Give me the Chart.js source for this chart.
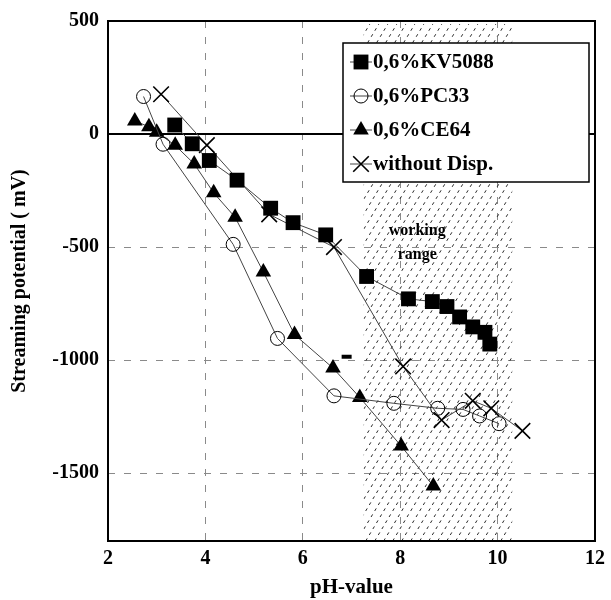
<!DOCTYPE html>
<html><head><meta charset="utf-8">
<script src="https://cdn.jsdelivr.net/npm/chart.js@4"></script>
<style>html,body{margin:0;padding:0;background:#fff}</style>
</head><body>
<canvas id="c" width="611" height="600" style="display:block;width:611px;height:600px"></canvas>
<script>
// ---- data ----
const seriesNames = ['0,6%KV5088', '0,6%PC33', '0,6%CE64', 'without Disp.'];

const kvPH = [3.37, 3.73, 4.08, 4.65, 5.34, 5.80, 6.47, 7.31, 8.17, 8.66, 8.96, 9.22, 9.49, 9.74, 9.84];
const kvMV = [40, -43, -117, -204, -328, -392, -446, -630, -729, -741, -763, -809, -853, -877, -929];

const pcPH = [2.73, 3.13, 4.57, 5.48, 6.64, 7.87, 8.77, 9.29, 9.63, 10.03];
const pcMV = [166, -45, -488, -904, -1158, -1191, -1213, -1218, -1247, -1281];

const cePH = [2.55, 2.84, 3.00, 3.38, 3.77, 4.17, 4.61, 5.19, 5.83, 6.62, 7.17, 8.02, 8.68];
const ceMV = [58, 32, 8, -50, -132, -260, -368, -610, -887, -1035, -1165, -1380, -1557];

const woPH = [3.09, 4.03, 5.31, 6.64, 8.06, 8.85, 9.49, 9.87, 10.51];
const woMV = [176, -49, -355, -500, -1028, -1265, -1180, -1213, -1313];

const strayPH = [6.90];
const strayMV = [-985];

const xTicks = [2, 4, 6, 8, 10, 12];
const yTicks = [500, 0, -500, -1000, -1500];
const xRange = [2, 12];
const yRange = [-1800, 500];
const workingRange = [7.25, 10.3];
const workingLabel = ['working', 'range'];
const xTitle = 'pH-value';
const yTitle = 'Streaming potential ( mV)';

const pts = (xs, ys) => xs.map((v, i) => ({x: v, y: ys[i]}));

const SERIF = '"Liberation Serif", "Times New Roman", serif';
const LINE = '#444';

const datasets = [
  {label: seriesNames[0], data: pts(kvPH, kvMV), pointStyle: 'rect', pointRadius: 10.5,
   backgroundColor: '#000', borderColor: LINE, pointBorderColor: '#000', pointBackgroundColor: '#000', borderWidth: 1, pointBorderWidth: 0},
  {label: seriesNames[1], data: pts(pcPH, pcMV), pointStyle: 'circle', pointRadius: 7,
   backgroundColor: 'rgba(0,0,0,0)', borderColor: LINE, pointBorderColor: '#000', pointBackgroundColor: 'rgba(0,0,0,0)', borderWidth: 1, pointBorderWidth: 1},
  {label: seriesNames[2], data: pts(cePH, ceMV), pointStyle: 'triangle', pointRadius: 9,
   backgroundColor: '#000', borderColor: LINE, pointBorderColor: '#000', pointBackgroundColor: '#000', borderWidth: 1, pointBorderWidth: 0},
  {label: seriesNames[3], data: pts(woPH, woMV), pointStyle: 'crossRot', pointRadius: 11,
   backgroundColor: '#000', borderColor: LINE, pointBorderColor: '#000', pointBackgroundColor: '#000', borderWidth: 1, pointBorderWidth: 1.6},
  {label: '', data: pts(strayPH, strayMV), pointStyle: 'line', pointRadius: 5, showLine: false,
   borderColor: '#000', pointBorderColor: '#000', pointBorderWidth: 4}
];

const overlay = {
  id: 'overlay',
  beforeDatasetsDraw(chart) {
    const {ctx, chartArea: a, scales: {x, y}} = chart;
    const x0 = x.getPixelForValue(workingRange[0]);
    const x1 = x.getPixelForValue(workingRange[1]);
    // hatched working range
    ctx.save();
    ctx.beginPath();
    ctx.rect(x0, a.top + 3, x1 - x0, a.bottom - a.top - 3);
    ctx.clip();
    ctx.strokeStyle = '#2a2a2a';
    ctx.lineWidth = 1;
    ctx.setLineDash([3, 4]);
    const H = a.bottom - a.top;
    const slant = 0.6;
    for (let sx = x0 - H * slant - 10; sx < x1 + 10; sx += 9) {
      ctx.beginPath();
      ctx.moveTo(sx, a.bottom);
      ctx.lineTo(sx + H * slant, a.top);
      ctx.stroke();
    }
    ctx.restore();
    // zero line
    const y0 = y.getPixelForValue(0);
    ctx.save();
    ctx.strokeStyle = '#000';
    ctx.lineWidth = 2;
    ctx.beginPath();
    ctx.moveTo(a.left, y0);
    ctx.lineTo(a.right, y0);
    ctx.stroke();
    // working range label
    ctx.fillStyle = '#000';
    ctx.font = 'bold 16px ' + SERIF;
    ctx.textAlign = 'center';
    ctx.textBaseline = 'middle';
    const tx = x.getPixelForValue(8.35);
    ctx.fillText(workingLabel[0], tx, y.getPixelForValue(-430));
    ctx.fillText(workingLabel[1], tx, y.getPixelForValue(-535));
    ctx.restore();
  },
  afterDraw(chart) {
    const {ctx, chartArea: a} = chart;
    ctx.save();
    // plot frame
    ctx.strokeStyle = '#000';
    ctx.lineWidth = 2;
    ctx.strokeRect(a.left, a.top, a.right - a.left, a.bottom - a.top);
    // legend box
    const bx = a.left + 235, by = a.top + 22, bw = 246, bh = 139;
    ctx.fillStyle = '#fff';
    ctx.fillRect(bx, by, bw, bh);
    ctx.strokeStyle = '#000';
    ctx.lineWidth = 1.5;
    ctx.strokeRect(bx, by, bw, bh);
    for (let i = 0; i < seriesNames.length; i++) {
      const ds = chart.data.datasets[i];
      const cy = by + 19 + i * 34;
      const mx = bx + 18;
      ctx.strokeStyle = LINE;
      ctx.lineWidth = 1;
      ctx.beginPath();
      ctx.moveTo(mx - 11, cy);
      ctx.lineTo(mx + 11, cy);
      ctx.stroke();
      ctx.fillStyle = ds.pointBackgroundColor;
      ctx.strokeStyle = ds.pointBorderColor;
      ctx.lineWidth = ds.pointBorderWidth;
      Chart.helpers.drawPoint(ctx, {pointStyle: ds.pointStyle, radius: ds.pointRadius, rotation: 0, borderWidth: ds.pointBorderWidth}, mx, cy);
      ctx.fillStyle = '#000';
      ctx.font = 'bold 21px ' + SERIF;
      ctx.textBaseline = 'middle';
      ctx.textAlign = 'left';
      ctx.fillText(ds.label, mx + 12, cy + 1);
    }
    ctx.restore();
  }
};

new Chart(document.getElementById('c'), {
  type: 'scatter',
  data: {datasets},
  plugins: [overlay],
  options: {
    responsive: false,
    animation: false,
    devicePixelRatio: 1,
    showLine: true,
    layout: {padding: {top: 21, right: 11, left: 0, bottom: 0}},
    plugins: {legend: {display: false}, tooltip: {enabled: false}},
    elements: {line: {tension: 0}},
    scales: {
      x: {
        type: 'linear', min: xRange[0], max: xRange[1],
        afterBuildTicks: s => { s.ticks = xTicks.map(v => ({value: v})); },
        afterFit: s => { s.height = 59; },
        ticks: {color: '#000', font: {family: SERIF, size: 20, weight: 'bold'}, padding: 6, maxRotation: 0,
                callback: v => String(v)},
        grid: {color: '#8a8a8a', lineWidth: 1, drawTicks: false},
        border: {display: false, dash: [7, 9]},
        title: {display: true, text: xTitle, color: '#000', font: {family: SERIF, size: 21, weight: 'bold'}, padding: {top: 0, bottom: 0}}
      },
      y: {
        type: 'linear', min: yRange[0], max: yRange[1],
        afterBuildTicks: s => { s.ticks = yTicks.map(v => ({value: v})); },
        afterFit: s => { s.width = 108; },
        ticks: {color: '#000', font: {family: SERIF, size: 20, weight: 'bold'}, padding: 9,
                callback: v => String(v)},
        grid: {color: '#8a8a8a', lineWidth: 1, drawTicks: false},
        border: {display: false, dash: [7, 9]},
        title: {display: true, text: yTitle, color: '#000', font: {family: SERIF, size: 20, weight: 'bold'}, padding: {top: 8, bottom: 0}}
      }
    }
  }
});
</script>
</body></html>
